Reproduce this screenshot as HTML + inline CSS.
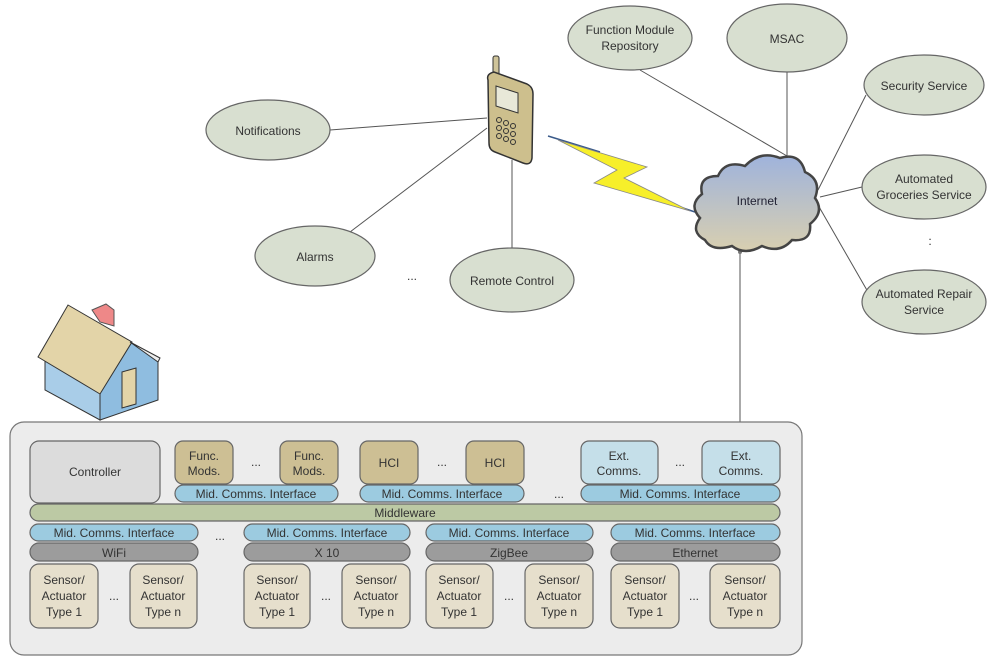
<!DOCTYPE html>
<html><head><meta charset="utf-8"><style>
body{margin:0;background:#fff;}
svg{display:block;font-family:"Liberation Sans",sans-serif;}
</style></head><body>
<svg width="1000" height="665" viewBox="0 0 1000 665" xmlns="http://www.w3.org/2000/svg">
<defs>
<linearGradient id="cg" x1="0" y1="0" x2="0" y2="1"><stop offset="0" stop-color="#9fb3dc"/><stop offset="1" stop-color="#d8cfb0"/></linearGradient>
</defs>
<g stroke="#555" stroke-width="1" fill="none">
<line x1="330" y1="130" x2="487" y2="118"/>
<line x1="350" y1="232" x2="487" y2="128"/>
<line x1="512" y1="160" x2="512" y2="248"/>
<line x1="640" y1="70" x2="787" y2="156"/>
<line x1="787" y1="72" x2="787" y2="156"/>
<line x1="866" y1="95" x2="818" y2="190"/>
<line x1="862" y1="187" x2="820" y2="197"/>
<line x1="868" y1="292" x2="818" y2="205"/>
<line x1="740" y1="250" x2="740" y2="438"/>
</g>
<circle cx="740" cy="252" r="2" fill="#777"/><circle cx="740" cy="437" r="2" fill="#777"/>
<!-- lightning -->
<line x1="548" y1="136" x2="600" y2="152" stroke="#3a5a8a" stroke-width="1.5"/>
<line x1="650" y1="197" x2="695" y2="212" stroke="#3a5a8a" stroke-width="1.5"/>
<polygon points="558,140 647,167 624,178 690,211 594,183 617,170" fill="#f7ef2a" stroke="#888" stroke-width="0.8"/>
<!-- ellipses -->
<g fill="#d8dfd0" stroke="#666" stroke-width="1.2">
<ellipse cx="268" cy="130" rx="62" ry="30"/>
<ellipse cx="315" cy="256" rx="60" ry="30"/>
<ellipse cx="512" cy="280" rx="62" ry="32"/>
<ellipse cx="630" cy="38" rx="62" ry="32"/>
<ellipse cx="787" cy="38" rx="60" ry="34"/>
<ellipse cx="924" cy="85" rx="60" ry="30"/>
<ellipse cx="924" cy="187" rx="62" ry="32"/>
<ellipse cx="924" cy="302" rx="62" ry="32"/>
</g>
<g font-size="12" fill="#333" text-anchor="middle">
<text x="268" y="135">Notifications</text>
<text x="315" y="261">Alarms</text>
<text x="512" y="285">Remote Control</text>
<text x="630" y="34">Function Module</text><text x="630" y="50">Repository</text>
<text x="787" y="43">MSAC</text>
<text x="924" y="90">Security Service</text>
<text x="924" y="183">Automated</text><text x="924" y="199">Groceries Service</text>
<text x="924" y="298">Automated Repair</text><text x="924" y="314">Service</text>
<text x="412" y="280">...</text>
<text x="930" y="240">.</text><text x="930" y="245">.</text>
</g>
<!-- phone -->
<rect x="493" y="56" width="6" height="20" rx="2" fill="#cfc49a" stroke="#333"/>
<path d="M488,80 Q486,74 494,72 L527,84 Q533,87 533,94 L532,158 Q531,166 523,163 L495,152 Q489,150 489,143 Z" fill="#cdbf8d" stroke="#333" stroke-width="1.5"/>
<polygon points="496,86 518,93 518,113 496,106" fill="#e8e8d8" stroke="#333"/>
<g fill="#cdbf8d" stroke="#333">
<circle cx="499" cy="120" r="2.5"/><circle cx="506" cy="123" r="2.5"/><circle cx="513" cy="126" r="2.5"/>
<circle cx="499" cy="128" r="2.5"/><circle cx="506" cy="131" r="2.5"/><circle cx="513" cy="134" r="2.5"/>
<circle cx="499" cy="136" r="2.5"/><circle cx="506" cy="139" r="2.5"/><circle cx="513" cy="142" r="2.5"/>
</g>
<!-- cloud -->
<path d="M705,240 Q690,232 700,218 Q688,205 702,194 Q698,176 718,176 Q725,160 745,166 Q760,150 780,158 Q800,152 805,172 Q822,180 815,198 Q825,212 810,224 Q812,242 792,240 Q780,254 762,246 Q745,256 732,246 Q712,252 705,240 Z" fill="url(#cg)" stroke="#444" stroke-width="2.5"/>
<text x="757" y="205" font-size="12" text-anchor="middle" fill="#223">Internet</text>
<!-- house -->
<polygon points="92,310 106,304 114,310 114,326 100,322" fill="#e88" stroke="#555"/>
<polygon points="45,360 100,392 100,420 45,390" fill="#a9cde8" stroke="#333"/>
<polygon points="100,392 130,342 158,360 158,400 100,420" fill="#8fbde0" stroke="#333"/>
<polygon points="68,305 132,342 100,394 38,357" fill="#e3d4a8" stroke="#333"/>
<polygon points="130,342 160,358 158,362" fill="#eee" stroke="#333"/>
<polygon points="122,372 136,368 136,404 122,408" fill="#e3d4a8" stroke="#333"/>
<!-- container -->
<rect x="10" y="422" width="792" height="233" rx="14" fill="#ececec" stroke="#777" stroke-width="1.2"/>
<g stroke="#666" stroke-width="1.2">
<rect x="30" y="441" width="130" height="62" rx="9" fill="#dcdcdc"/>
<rect x="175" y="441" width="58" height="43" rx="8" fill="#cdbf94"/>
<rect x="280" y="441" width="58" height="43" rx="8" fill="#cdbf94"/>
<rect x="360" y="441" width="58" height="43" rx="8" fill="#cdbf94"/>
<rect x="466" y="441" width="58" height="43" rx="8" fill="#cdbf94"/>
<rect x="581" y="441" width="77" height="43" rx="8" fill="#c5dfe9"/>
<rect x="702" y="441" width="78" height="43" rx="8" fill="#c5dfe9"/>
<rect x="175" y="485" width="163" height="17" rx="8.5" fill="#9ccbe0"/>
<rect x="360" y="485" width="164" height="17" rx="8.5" fill="#9ccbe0"/>
<rect x="581" y="485" width="199" height="17" rx="8.5" fill="#9ccbe0"/>
<rect x="30" y="504" width="750" height="17" rx="8.5" fill="#bcc9a4"/>
<rect x="30" y="524" width="168" height="17" rx="8.5" fill="#9ccbe0"/>
<rect x="244" y="524" width="166" height="17" rx="8.5" fill="#9ccbe0"/>
<rect x="426" y="524" width="167" height="17" rx="8.5" fill="#9ccbe0"/>
<rect x="611" y="524" width="169" height="17" rx="8.5" fill="#9ccbe0"/>
<rect x="30" y="543" width="168" height="18" rx="9" fill="#9c9c9c"/>
<rect x="244" y="543" width="166" height="18" rx="9" fill="#9c9c9c"/>
<rect x="426" y="543" width="167" height="18" rx="9" fill="#9c9c9c"/>
<rect x="611" y="543" width="169" height="18" rx="9" fill="#9c9c9c"/>
<g fill="#e6dfcc">
<rect x="30" y="564" width="68" height="64" rx="9"/><rect x="130" y="564" width="67" height="64" rx="9"/>
<rect x="244" y="564" width="66" height="64" rx="9"/><rect x="342" y="564" width="68" height="64" rx="9"/>
<rect x="426" y="564" width="67" height="64" rx="9"/><rect x="525" y="564" width="68" height="64" rx="9"/>
<rect x="611" y="564" width="68" height="64" rx="9"/><rect x="710" y="564" width="70" height="64" rx="9"/>
</g>
</g>
<g font-size="12" fill="#333" text-anchor="middle">
<text x="95" y="476">Controller</text>
<text x="204" y="460">Func.</text><text x="204" y="475">Mods.</text>
<text x="309" y="460">Func.</text><text x="309" y="475">Mods.</text>
<text x="389" y="467">HCI</text><text x="495" y="467">HCI</text>
<text x="619" y="460">Ext.</text><text x="619" y="475">Comms.</text>
<text x="741" y="460">Ext.</text><text x="741" y="475">Comms.</text>
<text x="256" y="466">...</text><text x="442" y="466">...</text><text x="680" y="466">...</text>
<text x="256" y="498">Mid. Comms. Interface</text>
<text x="442" y="498">Mid. Comms. Interface</text>
<text x="680" y="498">Mid. Comms. Interface</text>
<text x="559" y="498">...</text>
<text x="405" y="517">Middleware</text>
<text x="114" y="537">Mid. Comms. Interface</text>
<text x="327" y="537">Mid. Comms. Interface</text>
<text x="509" y="537">Mid. Comms. Interface</text>
<text x="695" y="537">Mid. Comms. Interface</text>
<text x="220" y="540">...</text>
<text x="114" y="557">WiFi</text><text x="327" y="557">X 10</text>
<text x="509" y="557">ZigBee</text><text x="695" y="557">Ethernet</text>
</g>
<g font-size="12" fill="#333" text-anchor="middle">
<text x="64" y="584">Sensor/</text><text x="64" y="600">Actuator</text><text x="64" y="616">Type 1</text>
<text x="163" y="584">Sensor/</text><text x="163" y="600">Actuator</text><text x="163" y="616">Type n</text>
<text x="277" y="584">Sensor/</text><text x="277" y="600">Actuator</text><text x="277" y="616">Type 1</text>
<text x="376" y="584">Sensor/</text><text x="376" y="600">Actuator</text><text x="376" y="616">Type n</text>
<text x="459" y="584">Sensor/</text><text x="459" y="600">Actuator</text><text x="459" y="616">Type 1</text>
<text x="559" y="584">Sensor/</text><text x="559" y="600">Actuator</text><text x="559" y="616">Type n</text>
<text x="645" y="584">Sensor/</text><text x="645" y="600">Actuator</text><text x="645" y="616">Type 1</text>
<text x="745" y="584">Sensor/</text><text x="745" y="600">Actuator</text><text x="745" y="616">Type n</text>
<text x="114" y="600">...</text><text x="326" y="600">...</text><text x="509" y="600">...</text><text x="694" y="600">...</text>
</g>
</svg>
</body></html>
